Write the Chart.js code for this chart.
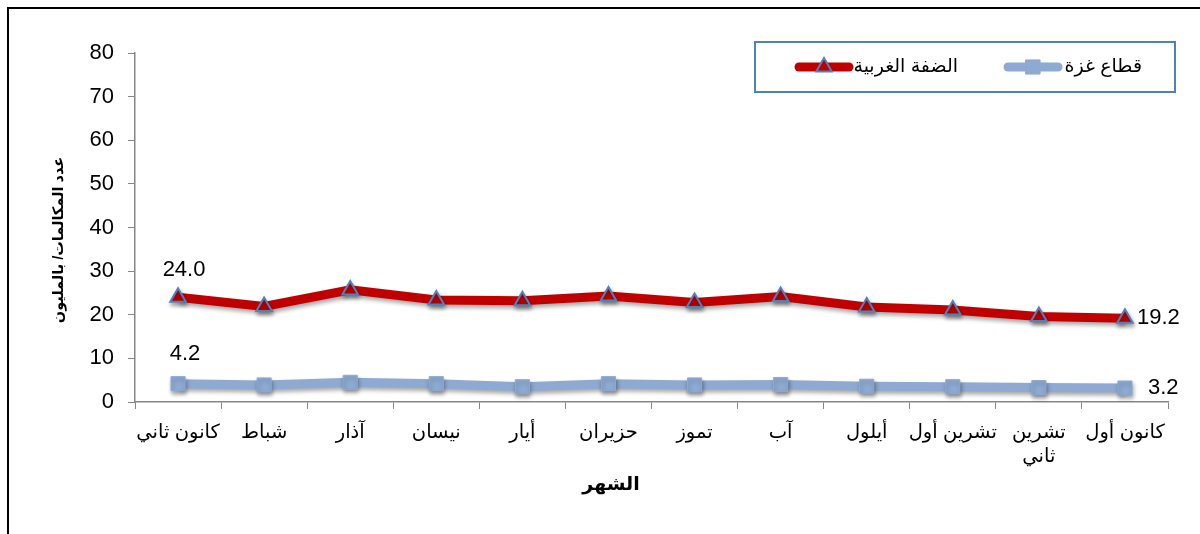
<!DOCTYPE html>
<html>
<head>
<meta charset="utf-8">
<script src="https://cdn.jsdelivr.net/npm/chart.js@4.4.1/dist/chart.umd.min.js"></script>
<style>
  html, body { margin: 0; padding: 0; background: #fff; }
  #wrap { position: relative; width: 1200px; height: 534px; }
</style>
</head>
<body>
<div id="wrap"><canvas id="chart" width="1200" height="534"></canvas></div>
<script>
const months = [
  "كانون ثاني", "شباط", "آذار", "نيسان", "أيار", "حزيران",
  "تموز", "آب", "أيلول", "تشرين أول", ["تشرين", "ثاني"], "كانون أول"
];
const westBank = [24.0, 21.9, 25.7, 23.4, 23.2, 24.3, 22.8, 24.2, 21.8, 21.1, 19.6, 19.2];
const gaza = [4.2, 3.9, 4.5, 4.2, 3.5, 4.2, 3.9, 4.0, 3.6, 3.5, 3.3, 3.2];
const seriesNames = ["الضفة الغربية", "قطاع غزة"];
const yTitle = "عدد المكالمات/ بالمليون";
const xTitle = "الشهر";

const FONT = "Arial, 'Liberation Sans', 'DejaVu Sans', sans-serif";
const RED = "#c00000";
const BLUE = "#8eaad3";
const EDGE = "#4f81bd";
const AXIS = "#868686";

// soft shadow under lines and markers, like the office chart
const shadowPlugin = {
  id: "shadow",
  beforeDatasetsDraw(chart) {
    const ctx = chart.ctx;
    ctx.save();
    ctx.shadowColor = "rgba(0,0,0,0.35)";
    ctx.shadowBlur = 4;
    ctx.shadowOffsetX = 1;
    ctx.shadowOffsetY = 3;
  },
  afterDatasetsDraw(chart) {
    chart.ctx.restore();
  }
};

const extrasPlugin = {
  id: "extras",
  afterDraw(chart) {
    const ctx = chart.ctx;
    ctx.save();

    // frame (top and left only)
    ctx.strokeStyle = "#000";
    ctx.lineWidth = 2;
    ctx.beginPath();
    ctx.moveTo(8, 534);
    ctx.lineTo(8, 8);
    ctx.lineTo(1200, 8);
    ctx.stroke();

    // value labels at both ends
    ctx.fillStyle = "#000";
    ctx.font = "22px " + FONT;
    ctx.textBaseline = "middle";
    const red = chart.getDatasetMeta(0).data;
    const blue = chart.getDatasetMeta(1).data;
    const last = red.length - 1;
    ctx.textAlign = "center";
    ctx.fillText(westBank[0].toFixed(1), red[0].x + 6, red[0].y - 27);
    ctx.fillText(gaza[0].toFixed(1), blue[0].x + 7, blue[0].y - 30);
    ctx.textAlign = "left";
    ctx.fillText(westBank[last].toFixed(1), red[last].x + 12, red[last].y);
    ctx.fillText(gaza[last].toFixed(1), blue[last].x + 23, blue[last].y);

    // axis titles
    ctx.font = "bold 19px " + FONT;
    ctx.textAlign = "center";
    ctx.fillText(xTitle, 611, 485);
    ctx.font = "bold 14.5px " + FONT;
    ctx.translate(59, 240);
    ctx.rotate(-Math.PI / 2);
    ctx.fillText(yTitle, 0, 0);
    ctx.setTransform(1, 0, 0, 1, 0, 0);

    // legend
    ctx.strokeStyle = EDGE;
    ctx.lineWidth = 2;
    ctx.strokeRect(755, 42, 420, 50);
    const ly = 67;
    const entries = [
      { x0: 799, x1: 849, tx: 958, ds: 0 },
      { x0: 1008, x1: 1058, tx: 1142, ds: 1 }
    ];
    entries.forEach(e => {
      const ds = chart.data.datasets[e.ds];
      ctx.strokeStyle = ds.borderColor;
      ctx.lineWidth = ds.borderWidth;
      ctx.lineCap = "round";
      ctx.beginPath();
      ctx.moveTo(e.x0, ly);
      ctx.lineTo(e.x1, ly);
      ctx.stroke();
      ctx.fillStyle = ds.pointBackgroundColor;
      ctx.strokeStyle = ds.pointBorderColor;
      ctx.lineWidth = ds.pointBorderWidth;
      Chart.helpers.drawPoint(ctx, {
        pointStyle: ds.pointStyle,
        radius: ds.pointRadius,
        borderWidth: ds.pointBorderWidth,
        rotation: 0
      }, (e.x0 + e.x1) / 2, ly);
      ctx.fillStyle = "#000";
      ctx.font = "19px " + FONT;
      ctx.textAlign = "right";
      ctx.fillText(ds.label, e.tx, ly);
    });
    ctx.restore();
  }
};

new Chart(document.getElementById("chart"), {
  type: "line",
  data: {
    labels: months,
    datasets: [
      {
        label: seriesNames[0],
        data: westBank,
        borderColor: RED,
        borderWidth: 9,
        pointStyle: "triangle",
        pointRadius: 9,
        pointBackgroundColor: RED,
        pointBorderColor: EDGE,
        pointBorderWidth: 2,
        tension: 0
      },
      {
        label: seriesNames[1],
        data: gaza,
        borderColor: BLUE,
        borderWidth: 9,
        pointStyle: "rect",
        pointRadius: 10,
        pointBackgroundColor: BLUE,
        pointBorderColor: BLUE,
        pointBorderWidth: 1,
        tension: 0
      }
    ]
  },
  options: {
    responsive: false,
    animation: false,
    layout: { padding: { top: 53, right: 32, left: 0, bottom: 0 } },
    plugins: {
      legend: { display: false },
      tooltip: { enabled: false }
    },
    scales: {
      x: {
        offset: true,
        afterFit(scale) { scale.height = 132; },
        grid: {
          offset: true,
          drawOnChartArea: false,
          drawTicks: true,
          tickLength: 7,
          color: AXIS
        },
        border: { color: AXIS, width: 1.5 },
        ticks: {
          color: "#000",
          font: { family: FONT, size: 19.5, lineHeight: 1.25 },
          padding: 11,
          maxRotation: 0,
          autoSkip: false
        }
      },
      y: {
        min: 0,
        max: 80,
        afterFit(scale) { scale.width = 135; },
        grid: {
          drawOnChartArea: false,
          drawTicks: true,
          tickLength: 7,
          color: AXIS
        },
        border: { color: AXIS, width: 1.5 },
        ticks: {
          stepSize: 10,
          color: "#000",
          font: { family: FONT, size: 22 },
          padding: 14
        }
      }
    }
  },
  plugins: [shadowPlugin, extrasPlugin]
});
</script>
</body>
</html>
